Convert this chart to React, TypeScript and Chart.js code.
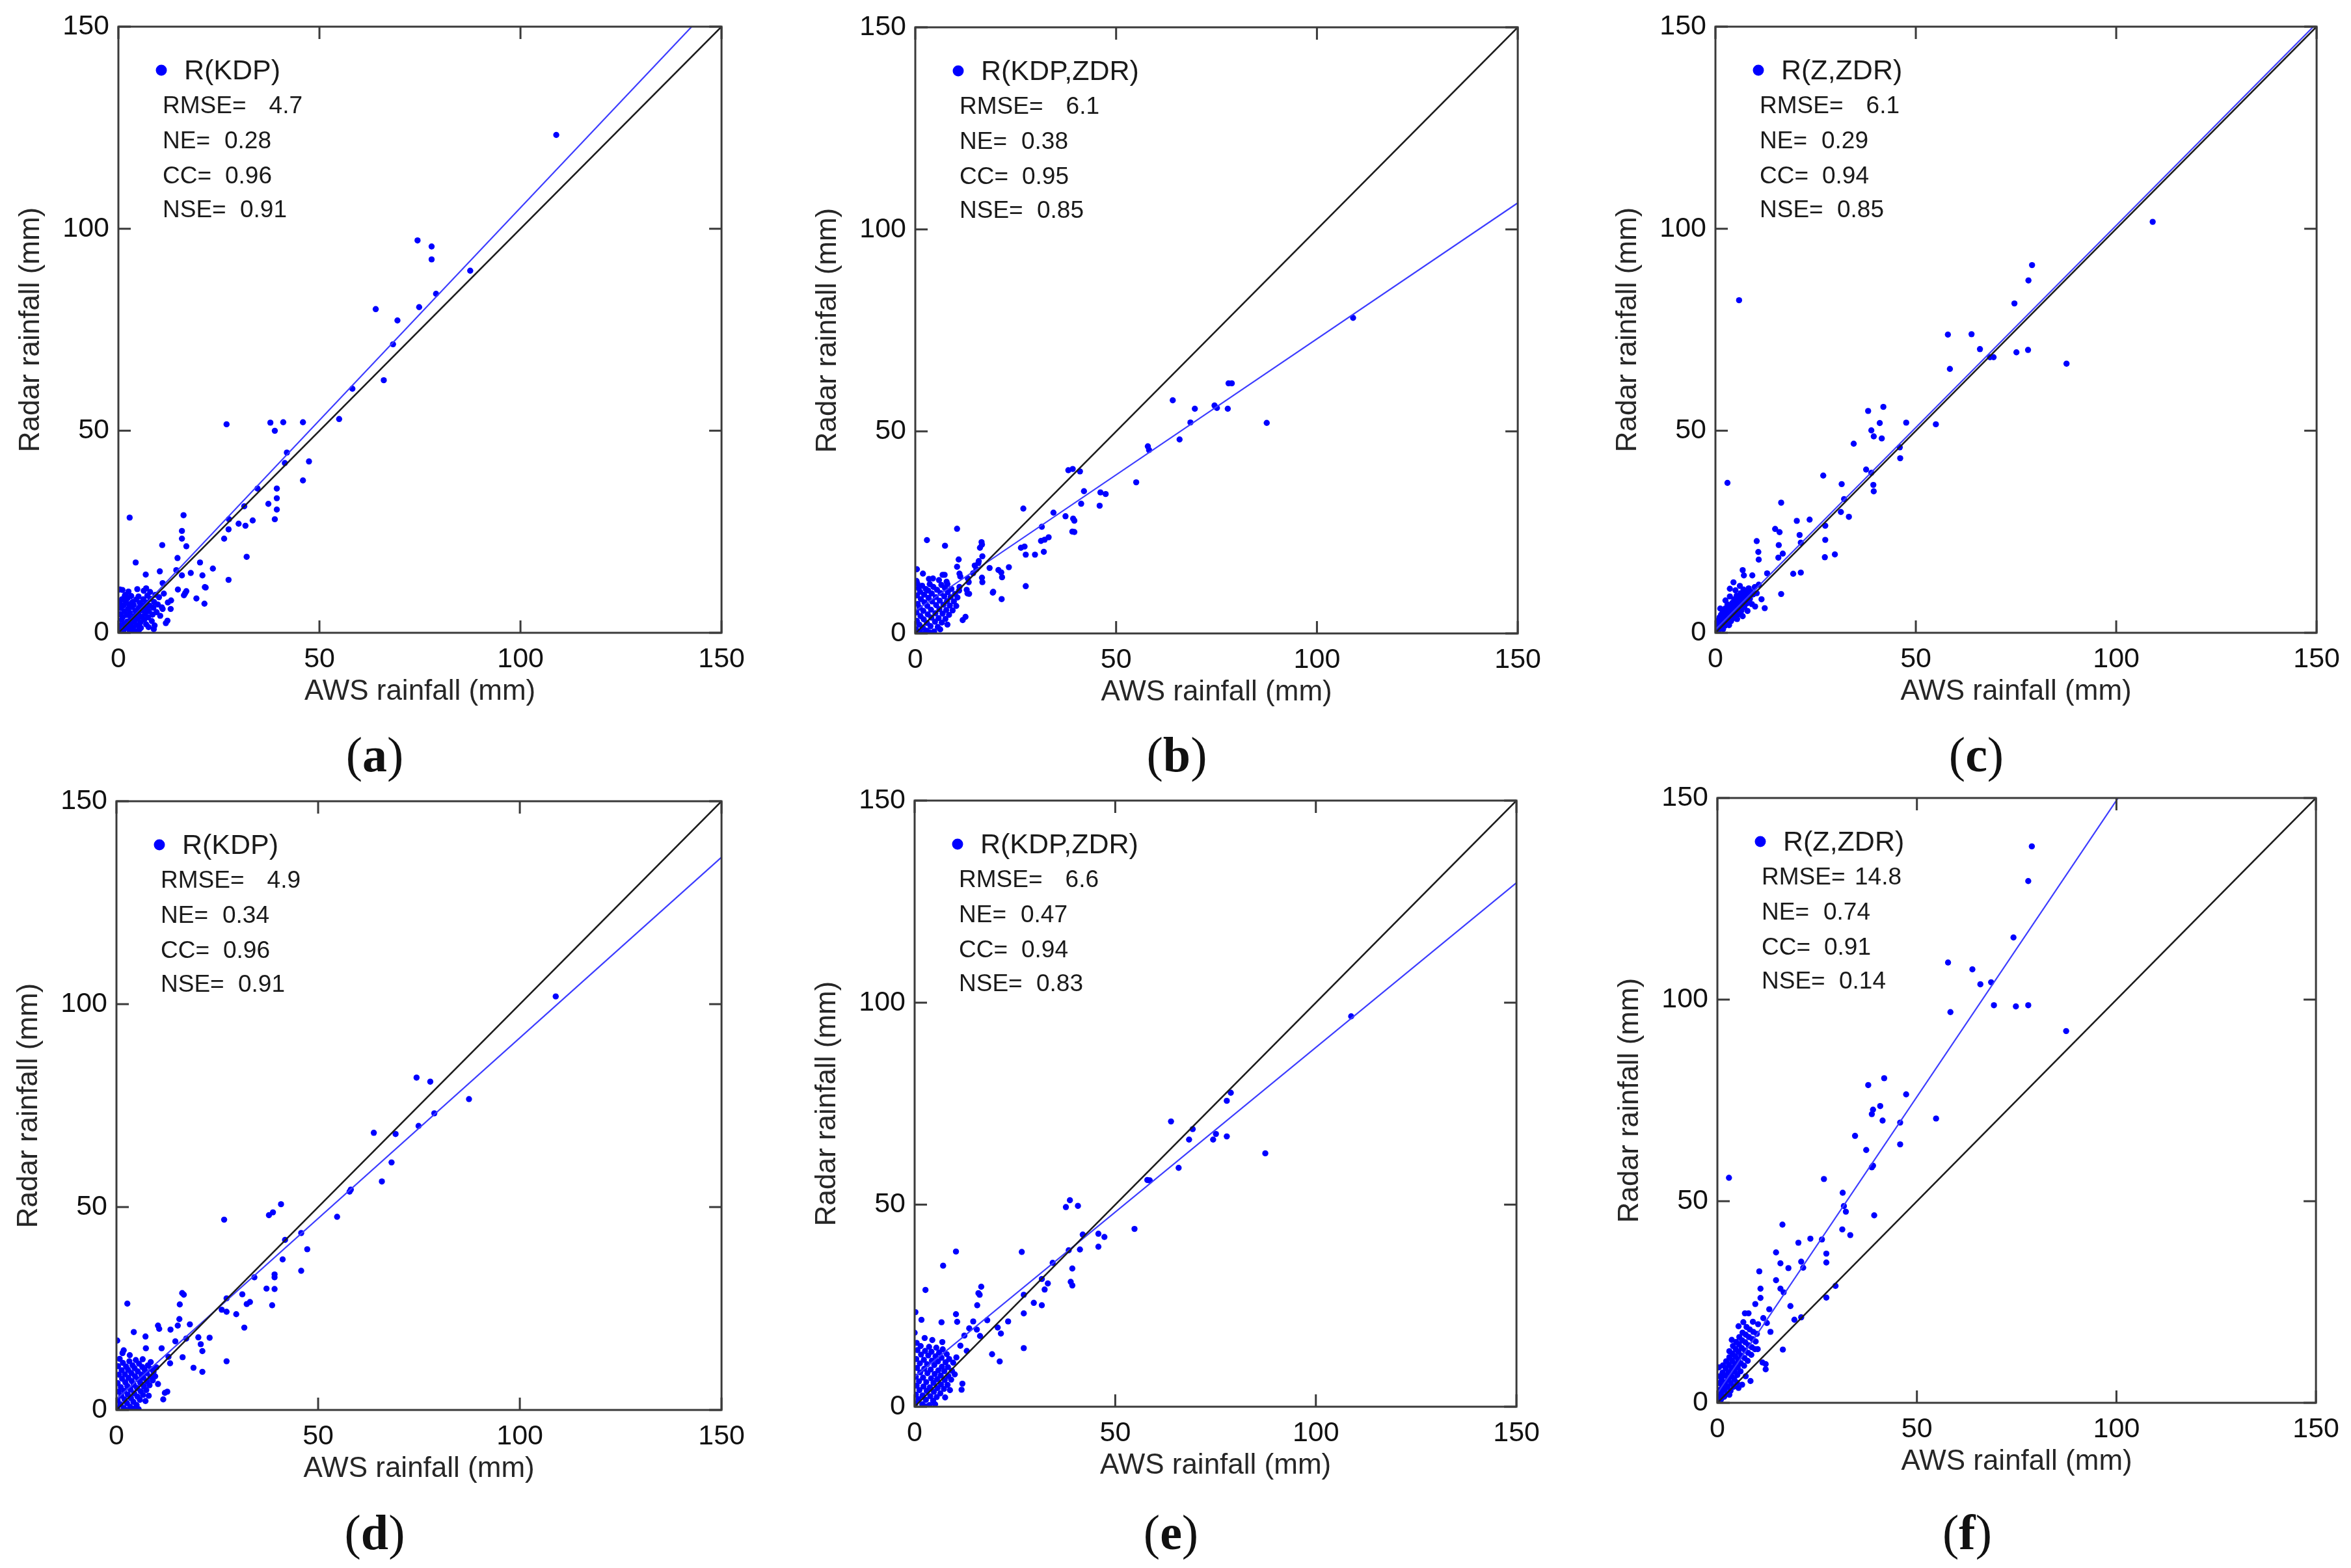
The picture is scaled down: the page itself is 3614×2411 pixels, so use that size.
import React, { useEffect, useRef } from 'react';
import { Chart, registerables } from 'chart.js';

Chart.register(...registerables);

// ---------------- data ----------------
const panelLetters = ['a', 'b', 'c', 'd', 'e', 'f'];
const methodNames = ['R(KDP)', 'R(KDP,ZDR)', 'R(Z,ZDR)', 'R(KDP)', 'R(KDP,ZDR)', 'R(Z,ZDR)'];
const rmseValues = ['4.7', '6.1', '6.1', '4.9', '6.6', '14.8'];
const neValues = ['0.28', '0.38', '0.29', '0.34', '0.47', '0.74'];
const ccValues = ['0.96', '0.95', '0.94', '0.96', '0.94', '0.91'];
const nseValues = ['0.91', '0.85', '0.85', '0.91', '0.83', '0.14'];
const fitSlopes = [1.052, 0.673, 1.0, 0.89, 0.815, 1.47];
const fitIntercepts = [0.0, 5.6, 0.8, 2.7, 7.4, 2.4];
const axisMin = 0;
const axisMax = 150;
const axisStep = 50;

// (a) R(KDP), top row
const pointsA: number[][] = [
  [108.9, 123.2], [74.4, 97.1], [77.9, 95.6], [77.9, 92.4], [87.5, 89.6], [79.0, 83.9], [64.0, 80.1], [74.8, 80.6],
  [69.4, 77.3], [68.3, 71.4], [58.2, 60.4], [66.0, 62.5], [54.9, 52.9], [26.9, 51.6], [37.8, 52.0], [41.0, 52.1],
  [45.9, 52.1], [38.9, 50.0], [41.9, 44.6], [41.4, 42.0], [47.4, 42.4], [45.9, 37.7], [34.6, 35.7], [39.4, 35.7],
  [39.4, 33.3], [37.3, 31.9], [39.4, 30.5], [38.9, 28.1], [31.3, 31.3], [33.4, 27.8], [29.9, 27.0], [31.6, 26.5],
  [27.5, 28.1], [27.4, 25.6], [26.3, 23.3], [31.9, 18.8], [27.4, 13.1], [16.2, 29.1], [2.8, 28.5], [15.8, 25.2],
  [15.8, 23.3], [10.9, 21.7], [16.9, 21.4], [14.7, 18.5], [4.3, 17.4], [23.5, 15.9], [20.3, 17.4], [10.3, 15.2],
  [18.0, 14.8], [21.5, 11.3], [20.9, 14.2], [6.8, 14.4], [14.8, 10.7], [16.6, 9.8], [19.4, 8.5], [21.4, 7.2],
  [13.1, 8.0], [12.3, 7.5], [11.0, 5.9], [13.0, 5.9], [12.2, 3.0], [11.8, 2.4], [0.4, 10.7], [1.8, 9.4],
  [6.9, 11.0], [14.4, 15.5], [15.8, 14.2], [11.0, 12.3], [16.9, 10.3], [16.3, 9.3], [21.7, 11.2],
  [0.3, 0.5], [0.5, 1.8], [0.8, 3.2], [0.4, 4.6], [0.6, 6.1], [0.3, 7.4], [0.9, 8.3], [1.2, 0.4], [1.4, 2.1],
  [1.1, 3.9], [1.5, 5.3], [1.3, 6.8], [1.8, 7.9], [1.6, 9.2], [2.0, 1.2], [2.2, 2.8], [2.1, 4.4], [2.4, 5.9],
  [2.6, 7.1], [2.3, 8.6], [2.8, 0.6], [3.0, 2.0], [3.1, 3.5], [2.9, 4.9], [3.3, 6.4], [3.5, 7.6], [3.2, 9.1],
  [3.7, 1.3], [3.9, 2.7], [4.0, 4.1], [4.2, 5.5], [3.8, 6.9], [4.4, 8.2], [4.1, 0.4], [4.6, 1.9], [4.8, 3.4],
  [4.9, 4.8], [5.1, 6.2], [5.3, 7.4], [5.0, 9.0], [5.5, 2.6], [5.7, 4.0], [5.8, 5.6], [6.0, 6.8], [6.2, 8.3],
  [5.6, 1.2], [6.4, 3.2], [6.6, 4.6], [6.8, 6.0], [7.0, 7.5], [7.2, 9.2], [6.9, 2.1], [7.4, 3.8], [7.6, 5.3],
  [7.8, 6.7], [8.0, 8.4], [7.9, 10.1], [8.3, 2.9], [8.5, 4.5], [8.7, 6.2], [8.9, 7.6], [9.2, 9.4], [9.0, 1.8],
  [9.5, 5.1], [9.8, 7.0], [10.1, 8.8], [10.4, 4.2], [10.8, 6.3], [11.3, 9.7], [6.3, 10.4], [4.7, 10.8],
  [2.5, 10.2], [1.0, 10.6], [3.6, 0.2], [5.2, 0.8], [7.5, 1.4], [8.8, 0.9],
];

// (b) R(KDP,ZDR), top row
const pointsB: number[][] = [
  [109.0, 78.1], [87.5, 52.1], [78.8, 61.9], [78.0, 61.9], [77.8, 55.6], [75.1, 55.8], [74.5, 56.4], [69.6, 55.6],
  [68.5, 52.2], [65.8, 48.0], [64.1, 57.7], [58.2, 45.4], [57.9, 46.3], [55.0, 37.4], [47.4, 34.5], [46.1, 34.9],
  [45.9, 31.6], [42.0, 35.2], [41.3, 32.1], [38.1, 40.4], [39.2, 40.7], [41.0, 40.1], [39.3, 28.4], [39.6, 27.9],
  [39.1, 25.2], [39.6, 25.1], [37.4, 29.0], [34.4, 29.9], [31.5, 26.4], [33.2, 23.8], [32.2, 23.2], [31.3, 22.9],
  [32.0, 20.2], [29.8, 19.5], [26.9, 30.9], [27.2, 21.5], [26.3, 21.2], [27.5, 19.5], [27.5, 11.7], [23.3, 16.4],
  [21.6, 13.9], [20.7, 15.7], [21.4, 15.1], [19.4, 10.3], [21.5, 8.5], [16.5, 22.6], [16.1, 21.2], [16.7, 19.1],
  [15.7, 17.4], [15.2, 15.9], [10.4, 25.9], [2.9, 23.1], [7.4, 21.7], [10.8, 18.3], [10.4, 16.5], [14.8, 16.8],
  [15.8, 17.9], [13.3, 12.7], [13.0, 9.9], [11.8, 3.3], [12.5, 4.1], [7.3, 14.5], [0.4, 15.9], [1.9, 14.8],
  [6.8, 14.5], [11.0, 14.8], [11.2, 14.1], [4.4, 13.6], [14.4, 14.9], [18.5, 16.2], [16.7, 12.7], [16.6, 13.8],
  [13.1, 13.6], [8.0, 12.2], [11.0, 11.5], [0.3, 13.0], [12.8, 10.8], [13.4, 9.8], [19.3, 10.1], [16.6, 22.0],
  [0.2, 1.0], [0.4, 3.1], [0.3, 5.2], [0.6, 7.3], [0.4, 9.4], [0.8, 11.2], [0.5, 12.4], [1.2, 0.3], [1.0, 2.2],
  [1.3, 4.3], [1.1, 6.4], [1.4, 8.5], [1.2, 10.3], [1.7, 11.8], [1.9, 1.4], [2.1, 3.5], [2.0, 5.6], [2.3, 7.7],
  [2.2, 9.6], [2.6, 11.0], [2.8, 0.7], [2.9, 2.6], [3.1, 4.7], [3.0, 6.8], [3.3, 8.8], [3.2, 10.6], [3.6, 12.2],
  [3.8, 1.8], [4.0, 3.9], [3.9, 5.9], [4.2, 7.9], [4.1, 9.9], [4.5, 11.5], [4.7, 0.5], [4.9, 2.9], [5.0, 5.0],
  [5.2, 7.0], [5.1, 9.0], [5.4, 10.8], [5.6, 1.6], [5.8, 3.8], [6.0, 6.0], [6.1, 8.1], [6.3, 10.0], [6.5, 12.0],
  [6.6, 2.7], [6.8, 4.9], [7.0, 7.1], [7.2, 9.2], [7.4, 11.2], [7.5, 3.6], [7.7, 5.8], [7.9, 8.0], [8.1, 10.2],
  [8.4, 4.6], [8.6, 6.9], [8.8, 9.0], [9.0, 11.0], [9.3, 5.7], [9.6, 7.9], [9.9, 9.8], [10.2, 6.8], [10.5, 8.9],
  [10.9, 10.6], [5.9, 13.2], [3.4, 13.5], [7.8, 12.8], [2.5, 0.1], [3.5, 0.3], [6.2, 1.0], [8.0, 2.2],
];

// (c) R(Z,ZDR), top row
const pointsC: number[][] = [
  [109.1, 101.7], [87.6, 66.6], [79.0, 91.0], [78.1, 87.2], [78.0, 70.0], [74.6, 81.5], [75.1, 69.4], [69.4, 68.2],
  [68.5, 68.2], [66.0, 70.2], [63.9, 73.9], [58.0, 73.8], [58.5, 65.3], [55.0, 51.6], [47.6, 52.0], [46.0, 45.9],
  [46.1, 43.2], [41.9, 55.9], [38.1, 54.9], [41.0, 51.9], [38.9, 50.1], [39.5, 48.6], [41.5, 48.1], [34.5, 46.8],
  [37.6, 40.4], [38.9, 39.6], [39.4, 36.6], [39.5, 35.0], [32.1, 33.1], [31.5, 36.8], [33.3, 28.7], [31.3, 29.9],
  [26.9, 38.9], [27.4, 26.5], [27.4, 23.0], [27.3, 18.7], [29.8, 19.4], [23.5, 28.0], [20.3, 27.7], [21.0, 24.2],
  [21.3, 22.3], [21.3, 14.9], [19.4, 14.6], [16.4, 32.2], [14.9, 25.7], [16.0, 24.9], [15.8, 21.7], [16.8, 19.6],
  [15.7, 18.6], [16.4, 9.6], [10.3, 22.7], [10.7, 20.0], [10.8, 18.1], [12.9, 14.7], [12.3, 6.1], [5.9, 82.3],
  [3.0, 37.1], [6.8, 15.5], [4.5, 12.5], [7.1, 14.2], [9.2, 14.2], [3.6, 10.9],
  [0.2, 0.3], [0.4, 1.2], [0.3, 2.3], [0.7, 0.5], [0.8, 1.7], [0.6, 3.0], [1.1, 1.0], [1.2, 2.4], [1.0, 3.8],
  [1.5, 1.6], [1.6, 3.0], [1.4, 4.5], [1.9, 0.9], [2.0, 2.3], [2.1, 3.7], [1.9, 5.2], [2.4, 1.8], [2.5, 3.2],
  [2.6, 4.6], [2.4, 6.0], [2.9, 2.6], [3.0, 4.0], [3.1, 5.4], [3.0, 7.0], [3.4, 1.9], [3.5, 3.4], [3.6, 4.8],
  [3.7, 6.3], [3.9, 2.9], [4.0, 4.3], [4.1, 5.7], [4.2, 7.4], [4.4, 3.6], [4.5, 5.1], [4.6, 6.6], [4.7, 8.3],
  [4.9, 4.4], [5.0, 5.9], [5.1, 7.5], [5.3, 9.2], [5.4, 3.4], [5.5, 5.2], [5.6, 6.8], [5.8, 8.6], [5.9, 4.6],
  [6.0, 6.2], [6.2, 7.9], [6.3, 9.8], [6.5, 5.5], [6.7, 7.2], [6.8, 9.1], [7.0, 10.7], [7.2, 6.4], [7.4, 8.2],
  [7.6, 10.1], [7.9, 7.3], [8.1, 9.2], [8.3, 11.0], [8.6, 8.4], [8.8, 10.2], [9.1, 7.1], [9.4, 9.5], [9.8, 11.3],
  [10.3, 9.8], [10.8, 11.9], [6.1, 11.6], [5.0, 10.5], [3.6, 9.0], [2.5, 8.0], [1.2, 6.0], [6.8, 4.1], [8.0, 5.4],
  [9.9, 6.5], [11.5, 8.3],
];

// (d) R(KDP), bottom row
const pointsD: number[][] = [
  [108.9, 101.9], [87.4, 76.6], [74.4, 81.9], [77.8, 80.9], [78.8, 73.1], [74.9, 70.0], [69.2, 68.0], [68.2, 61.0],
  [65.8, 56.3], [63.8, 68.3], [58.1, 54.3], [57.8, 53.8], [54.7, 47.6], [47.3, 39.6], [45.8, 43.6], [45.8, 34.3],
  [40.8, 50.7], [38.8, 48.7], [37.8, 48.0], [41.8, 41.9], [41.2, 37.1], [39.2, 33.4], [39.2, 32.7], [37.2, 29.9],
  [39.2, 29.8], [38.6, 25.8], [34.2, 32.7], [31.2, 28.5], [32.3, 26.1], [33.1, 26.6], [31.7, 20.3], [29.7, 23.6],
  [26.7, 46.9], [27.3, 27.5], [26.1, 24.7], [27.3, 24.2], [27.3, 12.0], [23.1, 17.8], [20.3, 17.9], [21.3, 14.5],
  [20.9, 16.2], [19.1, 10.4], [21.3, 9.4], [16.3, 28.8], [16.7, 28.4], [15.7, 26.0], [15.6, 22.4], [15.2, 20.8],
  [18.2, 21.1], [17.3, 17.6], [14.6, 16.9], [13.4, 19.8], [10.3, 20.8], [10.6, 20.0], [11.2, 15.2], [13.3, 11.5],
  [12.9, 13.1], [16.4, 13.0], [12.0, 4.2], [11.6, 2.6], [2.7, 26.2], [4.3, 19.2], [0.2, 17.1], [1.8, 14.7],
  [7.2, 18.1], [7.3, 15.2], [8.5, 11.8], [12.6, 4.5],
  [0.2, 0.4], [0.3, 2.4], [0.5, 4.5], [0.3, 6.6], [0.6, 8.7], [0.4, 10.8], [0.8, 12.6], [1.0, 1.4], [1.2, 3.5],
  [1.1, 5.6], [1.4, 7.7], [1.3, 9.8], [1.6, 11.6], [1.8, 0.5], [2.0, 2.6], [1.9, 4.7], [2.2, 6.8], [2.1, 8.8],
  [2.4, 10.7], [2.6, 1.7], [2.8, 3.8], [2.7, 5.9], [3.0, 7.9], [2.9, 9.9], [3.2, 12.0], [3.4, 0.8], [3.6, 2.9],
  [3.5, 5.0], [3.8, 7.1], [3.7, 9.1], [4.0, 11.0], [4.2, 2.0], [4.4, 4.1], [4.3, 6.2], [4.6, 8.3], [4.5, 10.3],
  [4.8, 12.3], [5.0, 1.2], [5.2, 3.3], [5.1, 5.4], [5.4, 7.5], [5.3, 9.5], [5.6, 11.4], [5.8, 2.5], [6.0, 4.6],
  [5.9, 6.7], [6.2, 8.7], [6.4, 10.6], [6.6, 3.7], [6.8, 5.8], [6.7, 7.9], [7.0, 9.9], [7.4, 4.9], [7.6, 7.0],
  [7.5, 9.1], [7.8, 11.0], [8.2, 6.1], [8.4, 8.2], [8.6, 10.1], [9.0, 7.3], [9.2, 9.4], [9.6, 8.3], [9.9, 10.5],
  [10.3, 6.4], [6.5, 12.5], [3.3, 13.5], [1.5, 14.0], [7.2, 2.2], [8.0, 3.5], [2.3, 0.0], [4.1, 0.3], [5.5, 0.2],
];

// (e) R(KDP,ZDR), bottom row
const pointsE: number[][] = [
  [108.8, 96.6], [87.4, 62.7], [78.8, 77.7], [77.8, 75.7], [77.8, 66.9], [74.4, 66.1], [75.1, 67.5], [69.3, 68.7],
  [68.4, 66.1], [65.8, 59.1], [63.9, 70.6], [58.0, 56.1], [58.6, 56.0], [54.8, 44.0], [47.3, 42.0], [45.8, 42.8],
  [45.8, 39.6], [41.9, 42.6], [37.7, 49.4], [38.7, 51.1], [40.7, 49.7], [41.2, 38.9], [39.3, 34.2], [38.9, 30.9],
  [39.3, 30.0], [38.4, 38.7], [34.4, 35.6], [31.7, 31.6], [32.4, 29.0], [33.2, 30.5], [31.7, 25.1], [29.7, 25.7],
  [26.7, 38.3], [27.2, 27.7], [27.2, 23.1], [27.2, 14.5], [23.3, 21.1], [20.7, 19.6], [21.5, 18.1], [19.3, 13.0],
  [21.2, 11.2], [16.6, 29.7], [15.9, 28.1], [16.2, 27.7], [15.6, 25.1], [14.6, 21.1], [15.5, 19.1], [18.1, 21.4],
  [10.3, 38.4], [7.1, 34.9], [2.7, 28.9], [10.3, 22.9], [10.6, 21.0], [11.9, 5.7], [11.7, 4.2], [0.2, 23.4],
  [1.7, 21.5], [0.0, 18.3], [6.7, 20.9], [12.4, 17.6], [13.6, 19.4], [11.4, 15.1], [13.0, 13.8], [16.3, 17.5],
  [0.2, 0.8], [0.3, 3.0], [0.5, 5.2], [0.3, 7.4], [0.6, 9.6], [0.4, 11.8], [0.7, 14.0], [0.5, 15.8], [1.0, 1.9],
  [1.2, 4.1], [1.1, 6.3], [1.4, 8.5], [1.3, 10.7], [1.6, 12.9], [1.5, 15.0], [1.9, 0.6], [2.0, 2.8], [2.2, 5.0],
  [2.1, 7.2], [2.4, 9.4], [2.3, 11.6], [2.6, 13.8], [2.8, 1.7], [3.0, 3.9], [2.9, 6.1], [3.2, 8.3], [3.1, 10.5],
  [3.4, 12.7], [3.6, 14.8], [3.7, 0.4], [3.9, 2.6], [3.8, 4.8], [4.1, 7.0], [4.0, 9.2], [4.3, 11.4], [4.2, 13.6],
  [4.6, 1.5], [4.8, 3.7], [4.7, 5.9], [5.0, 8.1], [4.9, 10.3], [5.2, 12.5], [5.4, 14.6], [5.5, 2.4], [5.7, 4.6],
  [5.6, 6.8], [5.9, 9.0], [5.8, 11.2], [6.1, 13.4], [6.4, 3.3], [6.6, 5.5], [6.5, 7.7], [6.8, 9.9], [6.7, 12.1],
  [7.0, 14.2], [7.3, 4.4], [7.5, 6.6], [7.4, 8.8], [7.7, 11.0], [8.0, 13.0], [8.2, 5.4], [8.4, 7.6], [8.3, 9.8],
  [8.6, 11.8], [9.1, 6.7], [9.3, 8.9], [9.6, 10.9], [10.0, 8.0], [10.4, 12.2], [6.9, 16.0], [4.4, 16.5],
  [2.5, 17.0], [7.6, 2.3], [8.8, 4.1], [2.7, 0.1], [5.1, 0.6],
];

// (f) R(Z,ZDR), bottom row
const pointsF: number[][] = [
  [87.4, 92.2], [78.8, 138.0], [77.9, 129.4], [77.9, 98.6], [74.2, 115.4], [74.8, 98.3], [69.3, 98.6], [68.6, 104.3],
  [65.9, 103.8], [63.9, 107.5], [57.8, 109.2], [58.4, 96.9], [54.8, 70.5], [47.3, 76.5], [45.8, 69.5], [45.8, 64.1],
  [41.8, 80.5], [37.8, 78.8], [39.0, 72.7], [40.8, 73.6], [38.7, 71.6], [41.4, 70.0], [34.5, 66.2], [37.3, 62.7],
  [39.0, 58.8], [38.7, 58.4], [39.3, 46.5], [31.4, 52.1], [31.7, 48.8], [32.2, 47.4], [31.3, 43.0], [33.3, 41.6],
  [26.7, 55.5], [26.2, 40.5], [27.3, 37.0], [27.3, 34.8], [27.3, 26.1], [29.6, 29.0], [23.3, 40.7], [20.3, 39.7],
  [21.0, 35.0], [21.5, 33.5], [17.8, 33.4], [21.0, 21.2], [19.3, 20.6], [18.3, 24.0], [16.3, 44.2], [14.7, 37.3],
  [15.8, 34.6], [14.7, 30.4], [15.8, 28.3], [16.6, 27.4], [16.4, 13.2], [10.5, 32.6], [10.8, 28.3], [10.8, 26.0],
  [13.0, 23.2], [13.3, 17.6], [12.1, 9.6], [12.1, 8.3], [2.9, 55.8], [6.9, 22.2], [7.8, 22.2], [3.6, 15.6],
  [0.4, 8.8], [11.5, 21.0], [9.5, 24.5], [12.4, 19.8],
  [0.2, 0.3], [0.3, 1.6], [0.5, 3.2], [0.4, 4.9], [0.6, 6.6], [0.9, 0.8], [1.0, 2.4], [1.2, 4.1], [1.1, 5.8],
  [1.3, 7.5], [1.4, 9.3], [1.7, 1.5], [1.8, 3.2], [1.9, 5.0], [2.0, 6.8], [2.1, 8.5], [2.2, 10.3], [2.5, 2.2],
  [2.6, 4.0], [2.7, 5.8], [2.8, 7.6], [2.9, 9.4], [3.0, 11.3], [3.0, 12.8], [3.3, 3.0], [3.4, 4.9], [3.5, 6.7],
  [3.6, 8.6], [3.7, 10.4], [3.8, 12.2], [3.9, 14.1], [4.1, 4.0], [4.2, 5.9], [4.3, 7.8], [4.4, 9.6], [4.5, 11.5],
  [4.6, 13.3], [4.7, 15.1], [4.9, 5.0], [5.0, 6.9], [5.1, 8.8], [5.2, 10.7], [5.3, 12.6], [5.4, 14.5], [5.5, 16.3],
  [5.8, 7.8], [5.9, 9.8], [6.0, 11.7], [6.1, 13.6], [6.2, 15.5], [6.3, 17.4], [6.7, 9.2], [6.8, 11.1], [6.9, 13.0],
  [7.0, 15.0], [7.1, 16.9], [7.3, 18.8], [7.6, 10.4], [7.7, 12.4], [7.8, 14.3], [7.9, 16.3], [8.1, 18.2],
  [8.5, 11.9], [8.6, 13.8], [8.8, 15.8], [9.0, 17.6], [9.4, 13.3], [9.6, 15.2], [9.9, 17.1], [10.2, 19.5],
  [6.5, 20.0], [5.3, 19.0], [8.9, 20.1], [10.1, 13.3], [11.3, 10.0], [7.1, 6.6], [8.3, 5.4], [5.3, 3.7], [3.0, 2.0],
  [6.2, 4.5],
];

const panelPoints = [pointsA, pointsB, pointsC, pointsD, pointsE, pointsF];

// ---------------- layout (page pixels) ----------------
const PLOT_BOXES = [
  { l: 182, t: 41, r: 1114, b: 973 },
  { l: 1407, t: 42, r: 2338, b: 974 },
  { l: 2637, t: 41, r: 3566, b: 973 },
  { l: 179, t: 1232, r: 1114, b: 2168 },
  { l: 1406, t: 1231, r: 2336, b: 2163 },
  { l: 2640, t: 1227, r: 3565, b: 2157 },
];
const LABEL_POS = [
  { x: 576, y: 1160 },
  { x: 1809, y: 1160 },
  { x: 3038, y: 1160 },
  { x: 576, y: 2356 },
  { x: 1800, y: 2356 },
  { x: 3024, y: 2356 },
];
const Y_AXIS_W = 182;
const PAD_TOP = 41;
const PAD_RIGHT = 46;
const X_AXIS_H = 140;
const TICK_LEN = 19;
const POINT_R = 4.7;

const SANS = "'Liberation Sans', Arial, Helvetica, sans-serif";
const SERIF = "'Liberation Serif', 'DejaVu Serif', 'Times New Roman', serif";

function canvasGeom(i: number) {
  const b = PLOT_BOXES[i];
  return {
    left: b.l - Y_AXIS_W,
    top: b.t - PAD_TOP,
    width: b.r - b.l + Y_AXIS_W + PAD_RIGHT,
    height: b.b - b.t + PAD_TOP + X_AXIS_H,
  };
}

const framePlugin = {
  id: 'matlabFrame',
  afterDatasetsDraw(chart: any) {
    const { ctx, chartArea } = chart;
    const { left, top, right, bottom } = chartArea;
    const xs = chart.scales.x;
    const ys = chart.scales.y;
    ctx.save();
    ctx.strokeStyle = '#3a3a3a';
    ctx.lineWidth = 3;
    ctx.beginPath();
    xs.ticks.forEach((t: any) => {
      const px = xs.getPixelForValue(t.value);
      ctx.moveTo(px, bottom);
      ctx.lineTo(px, bottom - TICK_LEN);
      ctx.moveTo(px, top);
      ctx.lineTo(px, top + TICK_LEN);
    });
    ys.ticks.forEach((t: any) => {
      const py = ys.getPixelForValue(t.value);
      ctx.moveTo(left, py);
      ctx.lineTo(left + TICK_LEN, py);
      ctx.moveTo(right, py);
      ctx.lineTo(right - TICK_LEN, py);
    });
    ctx.stroke();
    ctx.strokeRect(left, top, right - left, bottom - top);
    ctx.restore();
  },
};

function makeStatsPlugin(i: number) {
  return {
    id: 'statsText' + i,
    afterDraw(chart: any) {
      const { ctx, chartArea } = chart;
      const { left, top } = chartArea;
      ctx.save();
      ctx.fillStyle = '#0000ff';
      ctx.beginPath();
      ctx.arc(left + 66, top + 67, 8.5, 0, Math.PI * 2);
      ctx.fill();
      ctx.fillStyle = '#1a1a1a';
      ctx.textBaseline = 'alphabetic';
      ctx.font = `43px ${SANS}`;
      ctx.textAlign = 'left';
      ctx.fillText(methodNames[i], left + 101, top + 81);
      ctx.font = `37px ${SANS}`;
      const rows = [
        { label: 'RMSE=', value: rmseValues[i], endX: 283, y: 133 },
        { label: 'NE=', value: neValues[i], endX: 235, y: 187 },
        { label: 'CC=', value: ccValues[i], endX: 236, y: 241 },
        { label: 'NSE=', value: nseValues[i], endX: 259, y: 293 },
      ];
      rows.forEach((r) => {
        ctx.textAlign = 'left';
        ctx.fillText(r.label, left + 68, top + r.y);
        ctx.textAlign = 'right';
        ctx.fillText(r.value, left + r.endX, top + r.y);
      });
      ctx.restore();
    },
  };
}

export default function App() {
  const canvasRefs = useRef<(HTMLCanvasElement | null)[]>([]);

  useEffect(() => {
    const tickFont = { family: SANS, size: 43 };
    const titleFont = { family: SANS, size: 44 };
    const charts = panelPoints.map((pts, i) => {
      const canvas = canvasRefs.current[i];
      if (!canvas) return null;
      const a = fitSlopes[i];
      const b = fitIntercepts[i];
      return new Chart(canvas, {
        type: 'scatter',
        data: {
          datasets: [
            {
              data: [
                { x: axisMin, y: axisMin },
                { x: axisMax, y: axisMax },
              ],
              showLine: true,
              borderColor: '#1c1c1c',
              borderWidth: 2.6,
              pointRadius: 0,
              fill: false,
            },
            {
              data: [
                { x: axisMin, y: a * axisMin + b },
                { x: axisMax, y: a * axisMax + b },
              ],
              showLine: true,
              borderColor: '#3c3cff',
              borderWidth: 2.2,
              pointRadius: 0,
              fill: false,
            },
            {
              data: pts.map(([x, y]) => ({ x, y })),
              backgroundColor: '#0000ff',
              borderColor: '#0000ff',
              borderWidth: 0,
              pointRadius: POINT_R,
              pointHoverRadius: POINT_R,
            },
          ],
        } as any,
        options: {
          animation: false,
          responsive: false,
          devicePixelRatio: 1,
          events: [],
          layout: { padding: { left: 0, top: PAD_TOP, right: PAD_RIGHT, bottom: 0 } },
          plugins: { legend: { display: false }, tooltip: { enabled: false } },
          scales: {
            x: {
              type: 'linear',
              min: axisMin,
              max: axisMax,
              ticks: { stepSize: axisStep, padding: 15, font: tickFont, color: '#111111' },
              grid: { display: false, drawTicks: false },
              border: { display: false },
              title: {
                display: true,
                text: 'AWS rainfall (mm)',
                font: titleFont,
                color: '#262626',
                padding: { top: 0, bottom: 23 },
              },
              afterFit: (s: any) => {
                s.height = X_AXIS_H;
              },
            },
            y: {
              type: 'linear',
              min: axisMin,
              max: axisMax,
              ticks: { stepSize: axisStep, padding: 14, font: tickFont, color: '#111111' },
              grid: { display: false, drawTicks: false },
              border: { display: false },
              title: {
                display: true,
                text: 'Radar rainfall (mm)',
                font: titleFont,
                color: '#262626',
                padding: { top: 21, bottom: 0 },
              },
              afterFit: (s: any) => {
                s.width = Y_AXIS_W;
              },
            },
          },
        } as any,
        plugins: [framePlugin, makeStatsPlugin(i)],
      });
    });
    return () => {
      charts.forEach((c) => c && c.destroy());
    };
  }, []);

  return (
    <div
      style={{
        position: 'absolute',
        left: 0,
        top: 0,
        width: 3614,
        height: 2411,
        background: '#ffffff',
        overflow: 'hidden',
      }}
    >
      {PLOT_BOXES.map((_, i) => {
        const g = canvasGeom(i);
        return (
          <canvas
            key={i}
            ref={(el) => {
              canvasRefs.current[i] = el;
            }}
            width={g.width}
            height={g.height}
            style={{ position: 'absolute', left: g.left, top: g.top, width: g.width, height: g.height }}
          />
        );
      })}
      {LABEL_POS.map((p, i) => (
        <div
          key={'lbl' + i}
          style={{
            position: 'absolute',
            left: p.x,
            top: p.y,
            transform: 'translate(-50%, -50%)',
            fontFamily: SERIF,
            fontSize: 76,
            lineHeight: 1,
            color: '#111111',
            whiteSpace: 'nowrap',
          }}
        >
          (<span style={{ fontWeight: 'bold' }}>{panelLetters[i]}</span>)
        </div>
      ))}
    </div>
  );
}
